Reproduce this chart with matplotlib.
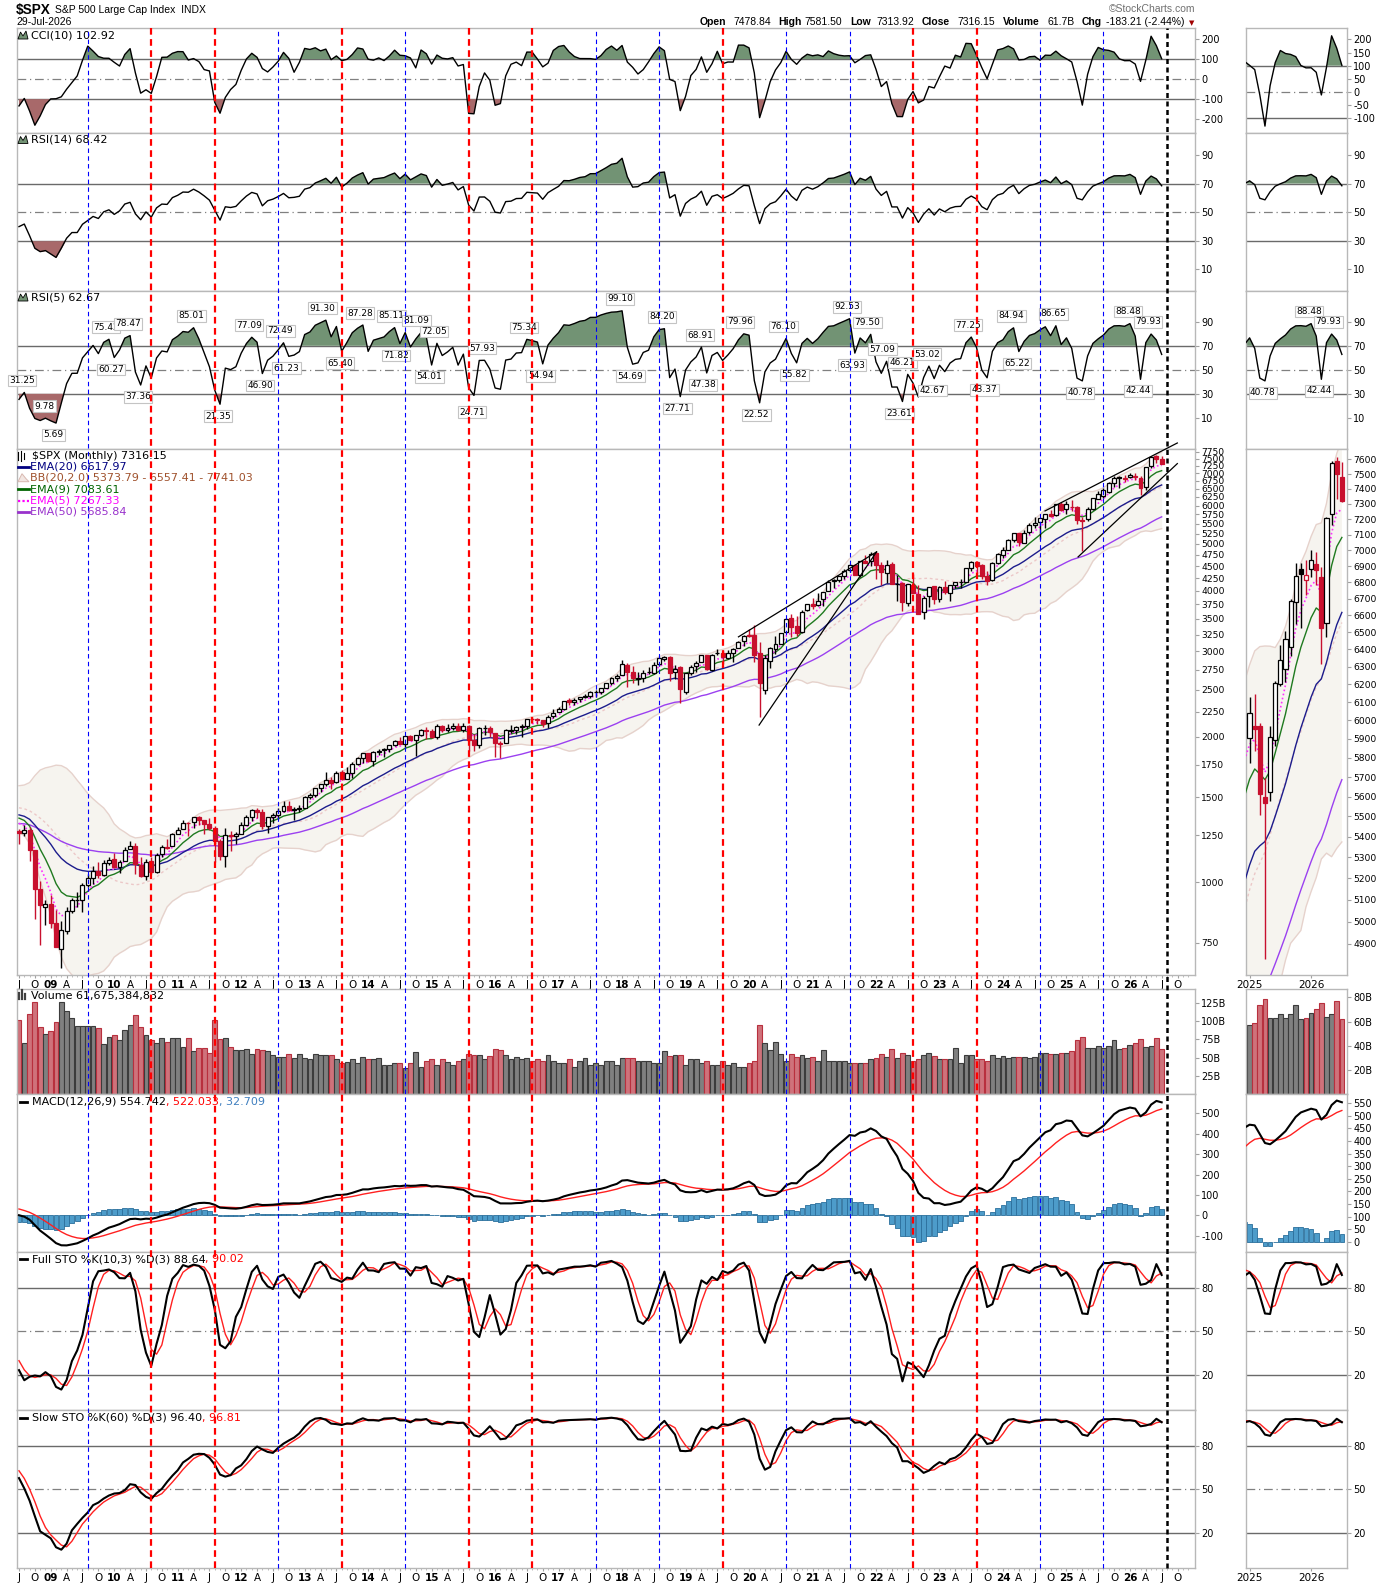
import numpy as np
import pandas as pd
import matplotlib
matplotlib.use('Agg')
import matplotlib.pyplot as plt
from matplotlib.patches import Rectangle, Polygon
from matplotlib.lines import Line2D
import matplotlib.transforms as mtrans
from matplotlib.ticker import FixedLocator, FixedFormatter, NullLocator

plt.rcParams['font.family'] = ['DejaVu Sans']
plt.rcParams['font.size'] = 7

# ---------------- DATA (monthly, Jul-2008 .. Jul-2026) ----------------
open_ = [
 1280, 1267, 1283, 1164, 969, 888,
 903, 826, 730, 794, 873, 919, 920, 990, 1020, 1055, 1036, 1099,
 1116, 1074, 1105, 1171, 1188, 1088, 1032, 1107, 1050, 1143, 1186, 1187,
 1258, 1289, 1329, 1330, 1365, 1346, 1321, 1293, 1220, 1132, 1252, 1247,
 1258, 1312, 1366, 1409, 1398, 1310, 1362, 1380, 1407, 1441, 1412, 1416,
 1426, 1498, 1515, 1569, 1598, 1631, 1609, 1690, 1636, 1682, 1758, 1806,
 1846, 1783, 1857, 1874, 1885, 1924, 1962, 1929, 2004, 1972, 2019, 2065,
 2059, 1997, 2105, 2068, 2087, 2106, 2064, 2104, 1970, 1919, 2080, 2082,
 2039, 1937, 1937, 2057, 2068, 2094, 2099, 2173, 2171, 2168, 2129, 2201,
 2251, 2285, 2381, 2363, 2388, 2416, 2431, 2477, 2475, 2521, 2583, 2646,
 2683, 2817, 2715, 2634, 2643, 2718, 2705, 2821, 2897, 2926, 2718, 2791,
 2477, 2703, 2798, 2848, 2953, 2751, 2971, 2980, 2910, 2983, 3050, 3144,
 3244, 3235, 2974, 2499, 2870, 3038, 3105, 3289, 3508, 3386, 3296, 3645,
 3764, 3731, 3842, 3992, 4192, 4216, 4300, 4406, 4528, 4317, 4610, 4602,
 4778, 4519, 4363, 4541, 4131, 4150, 3782, 4113, 3937, 3610, 3902, 4088,
 3853, 4071, 3964, 4112, 4166, 4181, 4451, 4578, 4530, 4284, 4202, 4560,
 4745, 4862, 5098, 5258, 5029, 5298, 5471, 5537, 5624, 5758, 5724, 6041,
 5903, 5969, 5968, 5597, 5625, 5897, 6200, 6287, 6410, 6680, 6880, 6812,
 6880, 6914, 6830, 6555, 7234, 7588, 7478.84]
high = [
 1292, 1313, 1303, 1167, 1007, 919,
 944, 877, 832, 889, 930, 956, 997, 1040, 1080, 1102, 1113, 1130,
 1150, 1113, 1181, 1220, 1206, 1131, 1120, 1129, 1150, 1196, 1227, 1263,
 1303, 1345, 1333, 1368, 1371, 1346, 1357, 1307, 1230, 1293, 1278, 1269,
 1334, 1378, 1420, 1423, 1416, 1363, 1392, 1427, 1475, 1470, 1434, 1448,
 1509, 1530, 1570, 1598, 1687, 1654, 1698, 1710, 1730, 1776, 1814, 1849,
 1850, 1868, 1884, 1897, 1925, 1968, 1992, 2005, 2019, 2019, 2076, 2093,
 2072, 2120, 2118, 2126, 2135, 2130, 2133, 2113, 2021, 2094, 2117, 2104,
 2039, 1963, 2073, 2111, 2103, 2120, 2178, 2194, 2188, 2169, 2214, 2278,
 2301, 2371, 2401, 2399, 2418, 2454, 2484, 2491, 2520, 2582, 2657, 2695,
 2873, 2835, 2801, 2717, 2742, 2791, 2848, 2917, 2941, 2940, 2816, 2800,
 2708, 2813, 2860, 2949, 2955, 2964, 3028, 3014, 3022, 3050, 3154, 3248,
 3338, 3394, 3136, 2955, 3068, 3233, 3280, 3515, 3588, 3550, 3646, 3760,
 3870, 3950, 3983, 4218, 4238, 4302, 4429, 4538, 4546, 4608, 4744, 4808,
 4819, 4595, 4637, 4593, 4307, 4178, 4141, 4325, 4120, 3906, 4080, 4101,
 4094, 4195, 4110, 4170, 4232, 4458, 4608, 4584, 4541, 4394, 4588, 4794,
 4932, 5112, 5265, 5264, 5342, 5524, 5670, 5652, 5768, 5879, 6053, 6100,
 6128, 6147, 5987, 5695, 5968, 6216, 6427, 6508, 6699, 6920, 6920, 6940,
 7002, 6990, 6895, 7215, 7590, 7620, 7581.50]
low = [
 1200, 1248, 1106, 840, 741, 815,
 805, 735, 667, 784, 866, 889, 869, 979, 992, 1020, 1029, 1085,
 1071, 1045, 1105, 1171, 1041, 1028, 1011, 1040, 1048, 1131, 1174, 1187,
 1257, 1289, 1249, 1295, 1312, 1258, 1282, 1101, 1115, 1075, 1159, 1202,
 1258, 1312, 1340, 1358, 1292, 1267, 1325, 1354, 1397, 1403, 1343, 1398,
 1426, 1485, 1501, 1536, 1582, 1560, 1605, 1628, 1634, 1646, 1746, 1768,
 1770, 1737, 1835, 1815, 1860, 1916, 1930, 1904, 1965, 1821, 2002, 1973,
 1988, 1981, 2040, 2048, 2068, 2056, 2044, 1867, 1872, 1893, 2020, 1993,
 1812, 1810, 1937, 2034, 2026, 1992, 2075, 2148, 2120, 2097, 2084, 2187,
 2245, 2271, 2322, 2329, 2353, 2405, 2407, 2418, 2447, 2520, 2557, 2605,
 2683, 2533, 2586, 2553, 2595, 2691, 2698, 2796, 2864, 2604, 2631, 2347,
 2444, 2682, 2723, 2848, 2751, 2729, 2953, 2822, 2892, 2855, 3050, 3070,
 3214, 2855, 2192, 2447, 2767, 2966, 3102, 3280, 3209, 3234, 3279, 3633,
 3663, 3725, 3723, 3990, 4056, 4165, 4234, 4368, 4306, 4279, 4560, 4495,
 4223, 4115, 4157, 4124, 3811, 3637, 3721, 3955, 3585, 3492, 3698, 3764,
 3794, 3943, 3809, 4049, 4048, 4167, 4385, 4335, 4238, 4104, 4197, 4547,
 4682, 4854, 5057, 4954, 5011, 5235, 5390, 5120, 5403, 5674, 5697, 5833,
 5773, 5837, 5505, 4835, 5578, 5861, 6190, 6212, 6360, 6550, 6521, 6720,
 6835, 6780, 6313, 6470, 7160, 7330, 7313.92]
close = [
 1267.38, 1282.83, 1166.36, 968.75, 896.24, 903.25,
 825.88, 735.09, 797.87, 872.81, 919.14, 919.32, 987.48, 1020.62, 1057.08, 1036.19, 1095.63, 1115.10,
 1073.87, 1104.49, 1169.43, 1186.69, 1089.41, 1030.71, 1101.60, 1049.33, 1141.20, 1183.26, 1180.55, 1257.64,
 1286.12, 1327.22, 1325.83, 1363.61, 1345.20, 1320.64, 1292.28, 1218.89, 1131.42, 1253.30, 1246.96, 1257.60,
 1312.41, 1365.68, 1408.47, 1397.91, 1310.33, 1362.16, 1379.32, 1406.58, 1440.67, 1412.16, 1416.18, 1426.19,
 1498.11, 1514.68, 1569.19, 1597.57, 1630.74, 1606.28, 1685.73, 1632.97, 1681.55, 1756.54, 1805.81, 1848.36,
 1782.59, 1859.45, 1872.34, 1883.95, 1923.57, 1960.23, 1930.67, 2003.37, 1972.29, 2018.05, 2067.56, 2058.90,
 1994.99, 2104.50, 2067.89, 2085.51, 2107.39, 2063.11, 2103.84, 1972.18, 1920.03, 2079.36, 2080.41, 2043.94,
 1940.24, 1932.23, 2059.74, 2065.30, 2096.95, 2098.86, 2173.60, 2170.95, 2168.27, 2126.15, 2198.81, 2238.83,
 2278.87, 2363.64, 2362.72, 2384.20, 2411.80, 2423.41, 2470.30, 2471.65, 2519.36, 2575.26, 2647.58, 2673.61,
 2823.81, 2713.83, 2640.87, 2648.05, 2705.27, 2718.37, 2816.29, 2901.52, 2913.98, 2711.74, 2760.17, 2506.85,
 2704.10, 2784.49, 2834.40, 2945.83, 2752.06, 2941.76, 2980.38, 2926.46, 2976.74, 3037.56, 3140.98, 3230.78,
 3225.52, 2954.22, 2584.59, 2912.43, 3044.31, 3100.29, 3271.12, 3500.31, 3363.00, 3269.96, 3621.63, 3756.07,
 3714.24, 3811.15, 3972.89, 4181.17, 4204.11, 4297.50, 4395.26, 4522.68, 4307.54, 4605.38, 4567.00, 4766.18,
 4515.55, 4373.94, 4530.41, 4131.93, 4132.15, 3785.38, 4130.29, 3955.00, 3585.62, 3871.98, 4080.11, 3839.50,
 4076.60, 3970.15, 4109.31, 4169.48, 4179.83, 4450.38, 4588.96, 4507.66, 4288.05, 4193.80, 4567.80, 4769.83,
 4845.65, 5096.27, 5254.35, 5035.69, 5277.51, 5460.48, 5522.30, 5648.40, 5762.48, 5705.45, 6032.38, 5881.63,
 6040.53, 5954.50, 5611.85, 5569.06, 5911.69, 6204.95, 6339.39, 6460.26, 6688.46, 6840.20, 6849.09, 6845.50,
 6937.0, 6876.0, 6522.0, 7207.0, 7574.0, 7499.36, 7316.15]
volume_b = [
 102, 70, 110, 126, 92, 82,
 87, 99, 126, 114, 104, 93, 93, 93, 93, 91, 69, 79,
 81, 74, 88, 95, 109, 92, 81, 74, 70, 77, 71, 77,
 77, 64, 77, 59, 63, 63, 57, 102, 75, 77, 64, 61,
 61, 62, 55, 62, 61, 59, 53, 51, 51, 55, 49, 55,
 49, 47.5, 55, 53, 53, 53, 47.5, 42, 44, 48, 42, 51,
 47.5, 47.5, 49, 40.5, 39.5, 43, 43, 36, 42, 58, 37.5, 46,
 48, 39.5, 48, 44, 40, 45, 48, 55, 53, 53, 47.5, 52,
 62, 61, 53, 48, 51, 47.5, 49, 46, 47.5, 45, 53, 45,
 43, 42, 47.5, 37.5, 46, 49, 39.5, 42, 40.5, 45, 45, 40.5,
 49, 50, 50, 46, 45, 46, 43, 43, 59, 52, 53, 53,
 40.5, 47.5, 47.5, 42, 45, 40.5, 39.5, 45, 39.5, 42, 37.5, 37.5,
 42, 46, 95, 70, 61, 71, 55, 46, 55, 51, 53, 49,
 51, 46, 61, 45, 46, 46, 46, 43, 42, 43, 42, 47.5,
 49, 55, 51, 62, 49, 57, 54, 46, 48, 54, 57, 52,
 48, 48, 47.5, 63, 43, 54, 53, 47.5, 47.5, 46, 53, 49,
 52, 49, 51, 51, 51, 49, 51, 57, 57, 55, 55, 57,
 57, 59, 74, 79, 63, 63, 66, 63, 66, 74, 62, 63,
 67, 70, 75, 64, 66, 77, 62]

# earlier history needed by the indicators (Jan-2000 .. Jun-2008 closes, Jul-2003 .. Jun-2008 highs/lows)
warm_close = [
 1394, 1366, 1499, 1452, 1421, 1455, 1431, 1518, 1437, 1429, 1315, 1320,
 1366, 1240, 1160, 1249, 1256, 1224, 1211, 1134, 1041, 1060, 1139, 1148,
 1130, 1107, 1147, 1077, 1067, 990, 912, 916, 815, 886, 936, 880,
 856, 841, 848, 917, 964, 975, 990, 1008, 996, 1051, 1058, 1112,
 1131, 1145, 1126, 1107, 1121, 1141, 1102, 1104, 1115, 1130, 1174, 1212,
 1181, 1204, 1181, 1157, 1192, 1191, 1234, 1220, 1229, 1207, 1249, 1248,
 1280, 1281, 1295, 1311, 1270, 1270, 1277, 1304, 1336, 1378, 1401, 1418,
 1438, 1407, 1421, 1482, 1531, 1503, 1455, 1474, 1527, 1549, 1481, 1468,
 1379, 1331, 1323, 1386, 1400, 1280]
warm_high = [
 1016, 1011, 1040, 1054, 1063, 1112,
 1139, 1159, 1164, 1150, 1128, 1146, 1141, 1109, 1131, 1143, 1188, 1218,
 1218, 1213, 1229, 1192, 1201, 1220, 1245, 1245, 1240, 1233, 1270, 1276,
 1295, 1297, 1311, 1326, 1327, 1284, 1285, 1307, 1340, 1389, 1407, 1432,
 1441, 1462, 1439, 1499, 1535, 1541, 1556, 1504, 1539, 1576, 1545, 1524,
 1471, 1396, 1406, 1397, 1440, 1405]
warm_low = [
 962, 960, 990, 1018, 1031, 1056,
 1105, 1124, 1087, 1100, 1077, 1113, 1078, 1060, 1102, 1090, 1128, 1163,
 1163, 1170, 1163, 1137, 1146, 1185, 1183, 1201, 1201, 1174, 1201, 1245,
 1245, 1253, 1278, 1280, 1245, 1219, 1224, 1265, 1292, 1325, 1360, 1389,
 1410, 1389, 1364, 1417, 1481, 1490, 1454, 1371, 1452, 1480, 1407, 1434,
 1270, 1325, 1257, 1324, 1373, 1272]

# RSI(5) pivot labels (value text, month index, 1 = above / -1 = below)
rsi5_lab_text = ['31.25','9.78','5.69','75.42','60.27','78.47','37.36','85.01','21.35','77.09',
 '46.90','72.49','61.23','91.30','65.40','87.28','85.11','71.82','81.09','54.01',
 '72.05','24.71','57.93','75.34','54.94','99.10','54.69','84.20','27.71','68.91',
 '47.38','79.96','22.52','76.10','55.82','92.53','63.93','79.50','57.09','23.61',
 '46.21','53.02','42.67','77.25','43.37','84.94','65.22','86.65','40.78','88.48',
 '42.44','79.93']
rsi5_lab_month = [0.6,4.8,6.5,16.4,17.4,20.6,22.5,32.6,37.6,43.5,
 45.6,49.4,50.6,57.4,60.7,64.5,70.4,71.3,75.1,77.6,
 78.4,85.6,87.5,95.5,98.6,113.6,115.6,121.5,124.5,128.7,
 129.3,136.3,139.4,144.5,146.6,156.5,157.5,160.4,163.2,166.4,
 167.0,171.6,172.7,179.4,182.5,187.6,188.6,195.6,200.6,209.6,
 211.5,213.4]
rsi5_lab_side = [1,1,-1,1,-1,1,-1,1,-1,1, -1,1,-1,1,-1,1,1,-1,1,-1,
 1,-1,1,1,-1,1,-1,1,-1,1, -1,1,-1,1,-1,1,-1,1,1,-1,
 1,1,-1,1,-1,1,-1,1,-1,1, -1,1]

# annual marker lines (August of each year)
vline_years = list(range(2009, 2027))
vline_kind = ['b','r','r','b','r','b','r','r','b','b','r','b','b','r','r','b','b','k']

# drawn trendlines: (month0, price0, month1, price1)
trend_lines = [(136.0, 3214, 162.1, 4813), (139.9, 2113, 162.1, 4813),
               (193.95, 5848, 218.96, 8078), (200.2, 4700, 218.96, 7324)]

# ---------------- indicators ----------------
N = len(close)
for arr in (open_, high, low, volume_b):
    assert len(arr) == N, len(arr)
nw = len(warm_close)
c_all = np.array(warm_close + close, float)
padn = nw - len(warm_high)
h_all = np.concatenate([np.full(padn, np.nan), warm_high, high]).astype(float)
l_all = np.concatenate([np.full(padn, np.nan), warm_low, low]).astype(float)

def ema(a, n):
    k = 2.0 / (n + 1)
    out = np.empty(len(a))
    out[0] = a[0]
    for j in range(1, len(a)):
        out[j] = k * a[j] + (1 - k) * out[j - 1]
    return out

def rsi(a, n):
    d = np.diff(a)
    g = np.clip(d, 0, None); ls = np.clip(-d, 0, None)
    ag = g[:n].mean(); al = ls[:n].mean()
    out = np.full(len(a), np.nan)
    out[n] = 100 - 100 / (1 + ag / al)
    for j in range(n, len(d)):
        ag = (ag * (n - 1) + g[j]) / n
        al = (al * (n - 1) + ls[j]) / n
        out[j + 1] = 100 - 100 / (1 + ag / al) if al > 0 else 100.0
    return out

tp = (h_all + l_all + c_all) / 3
cci = np.full(len(c_all), np.nan)
for j in range(9, len(c_all)):
    w = tp[j - 9:j + 1]
    if np.isnan(w).any():
        continue
    m = w.mean(); md = np.abs(w - m).mean()
    cci[j] = (tp[j] - m) / (0.015 * md)

def stoch(n, sk, sd):
    raw = np.full(len(c_all), np.nan)
    for j in range(n - 1, len(c_all)):
        hh = np.nanmax(h_all[j - n + 1:j + 1]); ll = np.nanmin(l_all[j - n + 1:j + 1])
        if np.isfinite(hh) and np.isfinite(ll) and hh > ll:
            raw[j] = 100 * (c_all[j] - ll) / (hh - ll)
    K = pd.Series(raw).rolling(sk).mean().values
    D = pd.Series(K).rolling(sd).mean().values
    return K, D

ema5 = ema(c_all, 5)[nw:]; ema9 = ema(c_all, 9)[nw:]
ema20 = ema(c_all, 20)[nw:]; ema50 = ema(c_all, 50)[nw:]
sma20 = pd.Series(c_all).rolling(20).mean().values
sd20 = pd.Series(c_all).rolling(20).std(ddof=0).values
bb_mid = sma20[nw:]; bb_up = (sma20 + 2 * sd20)[nw:]; bb_lo = (sma20 - 2 * sd20)[nw:]
macd_all = ema(c_all, 12) - ema(c_all, 26)
sig_all = ema(macd_all, 9)
macd = macd_all[nw:]; sig = sig_all[nw:]; hist = macd - sig
rsi14 = rsi(c_all, 14)[nw:]; rsi5 = rsi(c_all, 5)[nw:]
cci10 = cci[nw:]
fk, fd = stoch(10, 3, 3); fk = fk[nw:]; fd = fd[nw:]
sk, sdd = stoch(60, 3, 3); sk = sk[nw:]; sdd = sdd[nw:]

x = np.arange(N)
O = np.array(open_, float); Hh = np.array(high, float); L = np.array(low, float); C = np.array(close, float)
prev_c = np.concatenate([[warm_close[-1]], C[:-1]])

# ---------------- layout ----------------
W, Hpx = 1390, 1583
fig = plt.figure(figsize=(W / 100, Hpx / 100), dpi=100)
fig.patch.set_facecolor('white')
renderer = fig.canvas.get_renderer()

def px_axes(x0, y0, x1, y1):
    return fig.add_axes([x0 / W, 1 - y1 / Hpx, (x1 - x0) / W, (y1 - y0) / Hpx])

MX = (16.7, 1195.0); NX = (1246.0, 1347.0)
MXLIM = (-0.435, 222.3); NXLIM = (197.3, 217.0)
rows = {'cci': (28.3, 133.3), 'rsi14': (133.3, 291.0), 'rsi5': (291.0, 448.5),
        'price': (448.5, 975.0), 'vol': (989.3, 1094.0), 'macd': (1094.0, 1252.3),
        'full': (1252.3, 1410.0), 'slow': (1410.0, 1568.3)}
GREEN = '#729374'; REDF = '#a8696a'; CRED = '#c8102e'
REFC = '#6a6a6a'
LBL = 8.0

def style(ax, xl, ticks, labels=None, fs=7):
    for s in ax.spines.values():
        s.set_color('#b8b8b8'); s.set_linewidth(1)
    ax.set_facecolor('white')
    ax.set_xlim(*xl)
    ax.yaxis.tick_right()
    ax.yaxis.set_major_locator(FixedLocator(ticks))
    if labels is None:
        labels = [str(t) for t in ticks]
    ax.yaxis.set_major_formatter(FixedFormatter(labels))
    ax.yaxis.set_minor_locator(NullLocator())
    ax.tick_params(axis='y', which='major', labelsize=fs, length=3, width=0.8,
                   color='#a0a0a0', pad=1.5, labelcolor='black')
    ax.tick_params(axis='x', which='both', bottom=False, labelbottom=False, top=False)

def hline(ax, y, dash=False):
    if dash:
        ax.axhline(y, color='#808080', lw=0.9, ls=(0, (7, 3, 1, 3)), zorder=1)
    else:
        ax.axhline(y, color=REFC, lw=1, zorder=1)

axes = {}
for name, (y0, y1) in rows.items():
    axes[name] = (px_axes(MX[0], y0, MX[1], y1), px_axes(NX[0], y0, NX[1], y1))

# ---- CCI
for k, ax in enumerate(axes['cci']):
    ax.fill_between(x, cci10, 100, where=cci10 >= 100, interpolate=True, color=GREEN, lw=0, zorder=2)
    ax.fill_between(x, cci10, -100, where=cci10 <= -100, interpolate=True, color=REDF, lw=0, zorder=2)
    hline(ax, 100); hline(ax, -100); hline(ax, 0, dash=True)
    ax.plot(x, cci10, color='black', lw=1, zorder=3)
    if k == 0:
        ax.set_ylim(-270, 253)
        style(ax, MXLIM, [200, 100, 0, -100, -200])
    else:
        ax.set_ylim(-157, 242)
        style(ax, NXLIM, [200, 150, 100, 50, 0, -50, -100])

# ---- RSI
for nm, series in (('rsi14', rsi14), ('rsi5', rsi5)):
    for k, ax in enumerate(axes[nm]):
        ax.fill_between(x, series, 70, where=series >= 70, interpolate=True, color=GREEN, lw=0, zorder=2)
        ax.fill_between(x, series, 30, where=series <= 30, interpolate=True, color=REDF, lw=0, zorder=2)
        hline(ax, 70); hline(ax, 30); hline(ax, 50, dash=True)
        ax.plot(x, series, color='black', lw=1, zorder=3)
        ax.set_ylim((-5.2, 105.2) if nm == 'rsi14' else (-15.5, 115.6))
        style(ax, MXLIM if k == 0 else NXLIM, [90, 70, 50, 30, 10])

for k, ax in enumerate(axes['rsi5']):
    for t, m, s in zip(rsi5_lab_text, rsi5_lab_month, rsi5_lab_side):
        if k == 1 and m < NXLIM[0]:
            continue
        ax.annotate(t, xy=(m, float(t)), xytext=(0, 8.6 * s), textcoords='offset points',
                    ha='center', va='center', fontsize=6.5, color='black', zorder=6,
                    bbox=dict(boxstyle='square,pad=0.15', fc='white', ec='#c4c4c4', lw=0.8),
                    annotation_clip=False, clip_on=(k == 1))

# ---- price
def draw_candles(ax, idxs, width):
    for j in idxs:
        col = CRED if C[j] < prev_c[j] else 'black'
        filled = C[j] < O[j]
        ax.vlines(j, L[j], Hh[j], color=col, lw=1, zorder=4)
        b = min(O[j], C[j]); ht = max(abs(C[j] - O[j]), b * 0.0015)
        ax.add_patch(Rectangle((j - width / 2, b), width, ht, facecolor=col if filled else 'white',
                               edgecolor=col, lw=0.9, zorder=5))

for k, ax in enumerate(axes['price']):
    ax.set_yscale('log')
    ax.fill_between(x, bb_lo, bb_up, color='#f6f4ef', lw=0, zorder=1)
    ax.plot(x, bb_up, color='#e6d2cc', lw=1, zorder=2)
    ax.plot(x, bb_lo, color='#e6d2cc', lw=1, zorder=2)
    ax.plot(x, bb_mid, color='#ecc8c8', lw=1, ls=(0, (2, 2)), zorder=2)
    ax.plot(x, ema50, color='#9b40f0', lw=1, zorder=3)
    ax.plot(x, ema20, color='#1c1c8c', lw=1, zorder=3)
    ax.plot(x, ema9, color='#1f7a1f', lw=1, zorder=3)
    ax.plot(x, ema5, color='#ff30ff', lw=1.2, ls=(0, (1, 1.5)), zorder=3)
    if k == 0:
        ax.set_ylim(644, 7869)
        draw_candles(ax, range(N), 0.75)
        pt = [750] + list(range(1000, 7751, 250))
        style(ax, MXLIM, pt, [str(v) for v in pt], fs=6.6)
        for (m0, p0, m1, p1) in trend_lines:
            ax.plot([m0, m1], [p0, p1], color='black', lw=0.9, zorder=6, clip_on=False)
    else:
        ax.set_ylim(4764, 7676)
        draw_candles(ax, range(198, N), 0.82)
        pt = list(range(4900, 7601, 100))
        style(ax, NXLIM, pt, [str(v) for v in pt], fs=6.6)

# ---- volume
vcol = [('#cf727b', '#b8303e') if C[j] < prev_c[j] else ('#808080', '#3c3c3c') for j in range(N)]
for k, ax in enumerate(axes['vol']):
    idx = range(N) if k == 0 else range(197, N)
    ax.bar([j for j in idx], [volume_b[j] for j in idx], width=0.92,
           color=[vcol[j][0] for j in idx], edgecolor=[vcol[j][1] for j in idx], lw=0.8, zorder=2)
    if k == 0:
        ax.set_ylim(0, 144)
        style(ax, MXLIM, [25, 50, 75, 100, 125], ['25B', '50B', '75B', '100B', '125B'])
    else:
        ax.set_ylim(0, 86.7)
        style(ax, NXLIM, [20, 40, 60, 80], ['20B', '40B', '60B', '80B'])

# ---- MACD
for k, ax in enumerate(axes['macd']):
    ax.bar(x, hist, width=0.92, color='#4d9cca', edgecolor='#2b6f9c', lw=0.6, zorder=2)
    ax.plot(x, sig, color='#ff2020', lw=1, zorder=3)
    ax.plot(x, macd, color='black', lw=1.5, zorder=4)
    if k == 0:
        ax.set_ylim(-181, 595)
        style(ax, MXLIM, [500, 400, 300, 200, 100, 0, -100])
    else:
        ax.set_ylim(-42, 587)
        style(ax, NXLIM, list(range(0, 551, 50)))

# ---- stochastics
for nm, K, D in (('full', fk, fd), ('slow', sk, sdd)):
    for k, ax in enumerate(axes[nm]):
        hline(ax, 80); hline(ax, 20); hline(ax, 50, dash=True)
        ax.plot(x, D, color='#ff2020', lw=1, zorder=3)
        ax.plot(x, K, color='black', lw=1.5, zorder=4)
        ax.set_ylim((-4.1, 104.4) if nm == 'full' else (-4.7, 104.9))
        style(ax, MXLIM if k == 0 else NXLIM, [80, 50, 20])

# ---- x axis labels
def month_of(i):
    return (i + 6) % 12 + 1
def year_of(i):
    return 2008 + (i + 6) // 12
tpos = [i for i in range(0, 221) if month_of(i) in (1, 4, 7, 10)]
tlab = [('%02d' % (year_of(i) % 100)) if month_of(i) == 1 else {4: 'A', 7: 'J', 10: 'O'}[month_of(i)] for i in tpos]
for nm in ('price', 'slow'):
    ax = axes[nm][0]
    ax.set_xticks(tpos)
    ax.set_xticklabels(tlab)
    ax.set_xticks(list(range(0, 222)), minor=True)
    ax.tick_params(axis='x', which='major', bottom=True, labelbottom=True, length=2.5,
                   color='#a0a0a0', labelsize=7.5, pad=1)
    ax.tick_params(axis='x', which='minor', bottom=True, length=1.5, color='#b0b0b0')
    for lab, i in zip(ax.get_xticklabels(), tpos):
        if month_of(i) == 1:
            lab.set_fontweight('bold')
    axm = axes[nm][1]
    axm.set_xticks([198, 210])
    axm.set_xticklabels(['2025', '2026'])
    axm.tick_params(axis='x', which='major', bottom=True, labelbottom=True, length=2.5,
                    color='#a0a0a0', labelsize=7.5, pad=1)

# ---- annual vertical lines through all main panels
trans = mtrans.blended_transform_factory(axes['price'][0].transData, fig.transFigure)
ytop = 1 - rows['cci'][0] / Hpx; ybot = 1 - rows['slow'][1] / Hpx
for yr, kind in zip(vline_years, vline_kind):
    xi = (yr - 2008) * 12 + 1
    if kind == 'r':
        kw = dict(color='#ff0000', lw=1.6, ls=(0, (3, 2)))
    elif kind == 'b':
        kw = dict(color='#0000ff', lw=0.8, ls=(0, (4, 3)))
    else:
        kw = dict(color='black', lw=1.8, ls=(0, (2, 1.4)))
    fig.add_artist(Line2D([xi, xi], [ybot, ytop], transform=trans, zorder=10, **kw))

# ---- texts
def ftext(xp, yp, s, **kw):
    kw.setdefault('va', 'center'); kw.setdefault('ha', 'left'); kw.setdefault('fontsize', LBL)
    return fig.text(xp / W, 1 - yp / Hpx, s, **kw)

def seq(xp, yp, parts, **kw):
    for s, colr, extra in parts:
        opts = dict(kw); opts.update(extra)
        t = ftext(xp, yp, s, color=colr, **opts)
        xp += t.get_window_extent(renderer=renderer).width
    return xp

def fline(xs, ys, **kw):
    fig.add_artist(Line2D([v / W for v in xs], [1 - v / Hpx for v in ys], transform=fig.transFigure, **kw))

def fpoly(pts, **kw):
    fig.add_artist(Polygon([(a / W, 1 - b / Hpx) for a, b in pts], closed=True, transform=fig.transFigure, **kw))

HF = ['Liberation Sans', 'DejaVu Sans']
ftext(15.5, 10, '$SPX', fontsize=9.8, fontweight='bold', family=HF)
ftext(55, 10, 'S&P 500 Large Cap Index  INDX', fontsize=7.5, family=HF)
ftext(16, 22.3, '29-Jul-2026', fontsize=7.5, family=HF)
ftext(1195, 9.5, '\u00a9StockCharts.com', fontsize=7.5, color='#707070', ha='right', family=HF)
hdr = [(700, 'Open', True), (733, '7478.84', False), (778, 'High', True), (804, '7581.50', False),
       (850, 'Low', True), (876, '7313.92', False), (922, 'Close', True), (957, '7316.15', False),
       (1003, 'Volume', True), (1048, '61.7B', False), (1082, 'Chg', True), (1106, '-183.21 (-2.44%)', False)]
for xp, s, b in hdr:
    ftext(xp, 22.3, s, fontsize=7.5, fontweight='bold' if b else 'normal', family=HF)
ftext(1189, 23, '\u25bc', fontsize=5, color='#a00000')

def mountain(y):
    fpoly([(18, y + 4), (20.5, y - 3), (23, y + 1), (26, y - 4), (28, y + 4)], fc=GREEN, ec='black', lw=0.6, zorder=11)

mountain(35); ftext(31, 35, 'CCI(10) 102.92')
mountain(139.5); ftext(31, 139.5, 'RSI(14) 68.42')
mountain(297); ftext(31, 297, 'RSI(5) 62.67')

# price legend
fline([18, 18], [452, 460], color='black', lw=0.8); fline([21, 21], [451, 461], color='black', lw=0.8)
fline([24, 24], [453, 459], color='black', lw=0.8)
ftext(31.5, 456, '$SPX (Monthly) 7316.15')
leg = [(466.7, 'EMA(20) 6617.97', '#000080', '-'), (477.7, 'BB(20,2.0) 5373.79 - 6557.41 - 7741.03', '#a0522d', 'bb'),
       (489.3, 'EMA(9) 7083.61', '#006400', '-'), (500.7, 'EMA(5) 7267.33', '#ff00ff', ':'),
       (511.7, 'EMA(50) 5685.84', '#9932cc', '-')]
for yp, s, colr, kind in leg:
    if kind == 'bb':
        fpoly([(18, yp + 4), (22, yp - 4), (26, yp + 1), (29, yp + 4)], fc='#f2e6e2', ec='#d8b8b0', lw=0.7, zorder=11)
    else:
        fline([18, 29], [yp, yp], color=colr, lw=2 if kind == '-' else 1.6, ls='-' if kind == '-' else (0, (1, 1)))
    ftext(29.5, yp, s, color=colr)

# volume legend
for xx, hh in ((19, 6), (22, 9), (25, 5)):
    fline([xx, xx], [999, 999 - hh], color='#404040', lw=1.6)
ftext(31, 995.5, 'Volume 61,675,384,832')

def multi(yp, parts):
    fline([20, 27], [yp, yp], color='black', lw=2)
    seq(31.7, yp, [(s, c_, {}) for s, c_ in parts])

multi(1101.7, [('MACD(12,26,9) 554.742', 'black'), (', 522.033', '#ff0000'), (', 32.709', '#3f7fbf')])
multi(1259.3, [('Full STO %K(10,3) %D(3) 88.64', 'black'), (', 90.02', '#ff0000')])
multi(1417.7, [('Slow STO %K(60) %D(3) 96.40', 'black'), (', 96.81', '#ff0000')])

fig.savefig('out.png', dpi=100, facecolor='white')
